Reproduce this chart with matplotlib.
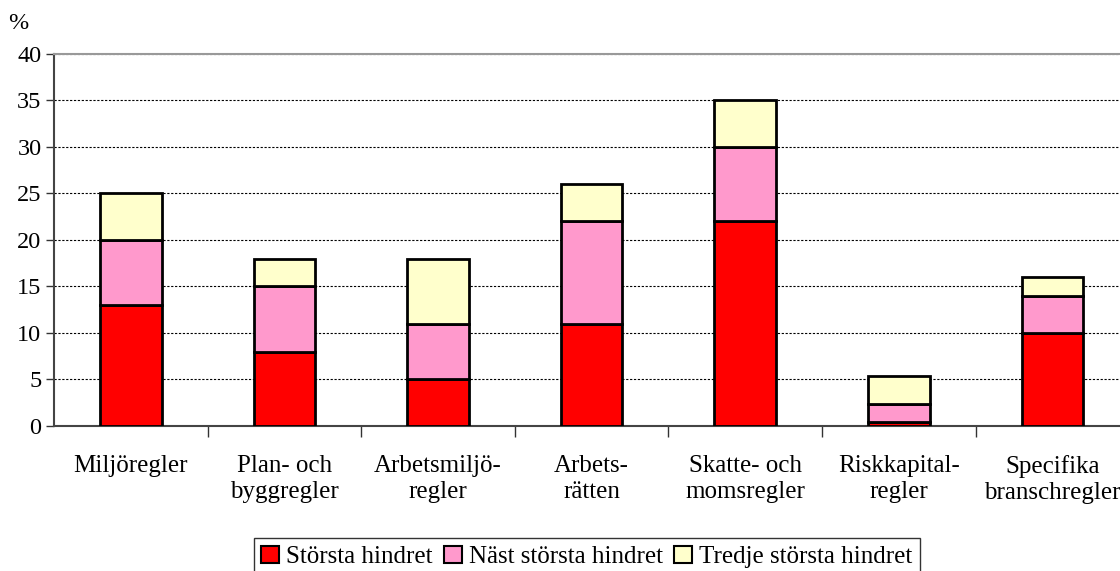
import numpy as np
import matplotlib.pyplot as plt
from matplotlib.patches import Patch

# Data
kategorier = ['Miljöregler', 'Plan- och\nbyggregler', 'Arbetsmiljö-\nregler', 'Arbets-\nrätten',
              'Skatte- och\nmomsregler', 'Riskkapital-\nregler', 'Specifika\nbranschregler']
storsta = [13, 8, 5, 11, 22, 0.4, 10]
nast_storsta = [7, 7, 6, 11, 8, 2.0, 4]
tredje = [5, 3, 7, 4, 5, 3.0, 2]
serier = ['Största hindret', 'Näst största hindret', 'Tredje största hindret']
farger = ['#ff0000', '#ff99cc', '#ffffcc']

plt.rcParams['font.family'] = ['Liberation Serif', 'DejaVu Serif']
fs = 17.5

fig = plt.figure(figsize=(11.2, 5.71), dpi=100)
ax = fig.add_axes([0.0482, 0.254, 0.96, 0.6515])

x = np.arange(len(kategorier))
bottom = np.zeros(len(kategorier))
for vals, farg in zip([storsta, nast_storsta, tredje], farger):
    ax.bar(x, vals, width=0.4, bottom=bottom, color=farg, edgecolor='black',
           linewidth=2, zorder=3)
    bottom += np.array(vals)

ax.set_xlim(-0.5, 6.5)
ax.set_ylim(0, 40)
ax.set_yticks(np.arange(0, 41, 5))
ax.yaxis.grid(True, linestyle=(0, (2, 1.5)), color='black', linewidth=0.8, zorder=0)

ax.set_xticks(x)
ax.set_xticklabels(kategorier, fontsize=18, linespacing=1.25)
ax.tick_params(axis='x', length=0, pad=21)
ax.set_xticks(np.arange(0.5, 6.5, 1), minor=True)
ax.tick_params(axis='x', which='minor', length=8, width=1, color='#333333', direction='out')
ax.tick_params(axis='y', labelsize=fs, length=6, width=1, color='#333333', pad=3)

for side in ['left', 'bottom']:
    ax.spines[side].set_color('#444444')
    ax.spines[side].set_linewidth(1.5)
ax.spines['top'].set_color('#999999')
ax.spines['top'].set_linewidth(1.5)
ax.spines['right'].set_visible(False)

fig.text(0.007, 0.958, '%', fontsize=fs, ha='left', va='center')

handles = [Patch(facecolor=f, edgecolor='black', linewidth=1.5) for f in farger]
leg = fig.legend(handles, serier, loc='upper center', bbox_to_anchor=(0.524, 0.057), ncol=3,
                 fontsize=18, frameon=True, fancybox=False, edgecolor='black',
                 handlelength=0.7, handleheight=0.7, handletextpad=0.3, columnspacing=0.45,
                 borderpad=0.3, borderaxespad=0)
leg.get_frame().set_linewidth(1)

fig.savefig('out.png', dpi=100)
